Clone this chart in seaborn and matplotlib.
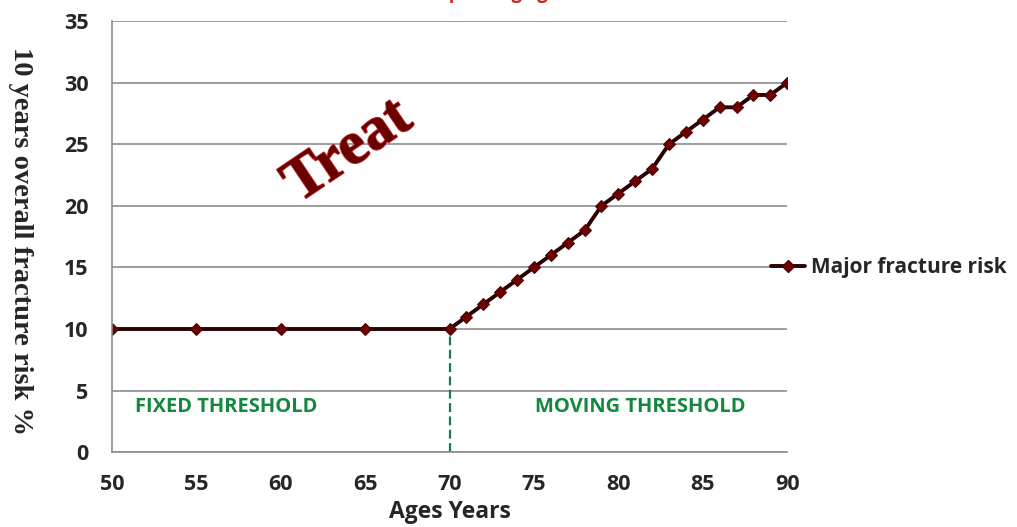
import matplotlib
matplotlib.use("Agg")
import matplotlib.pyplot as plt
import matplotlib.patheffects as pe
from matplotlib.lines import Line2D
import seaborn as sns
import pandas as pd

ages = [50, 55, 60, 65, 70, 71, 72, 73, 74, 75, 76, 77, 78, 79, 80,
        81, 82, 83, 84, 85, 86, 87, 88, 89, 90]
risk = [10, 10, 10, 10, 10, 11, 12, 13, 14, 15, 16, 17, 18, 20, 21,
        22, 23, 25, 26, 27, 28, 28, 29, 29, 30]
series_name = "Major fracture risk"
x_ticks = [50, 55, 60, 65, 70, 75, 80, 85, 90]
y_ticks = [0, 5, 10, 15, 20, 25, 30, 35]
threshold_age = 70
threshold_risk = 10

df = pd.DataFrame({"Age": ages, "Risk": risk, "Series": series_name})

sns.set_theme(style="white")
plt.rcParams['font.family'] = ['Open Sans', 'DejaVu Sans']

fig = plt.figure(figsize=(10.17, 5.27), dpi=100)
ax = fig.add_axes([0.110, 0.142, 0.664, 0.818])

sns.lineplot(data=df, x="Age", y="Risk", hue="Series", palette=["#2a0000"],
             marker="D", markersize=6, markerfacecolor="#6e0000",
             markeredgecolor="#4a0000", linewidth=2.8, ax=ax, legend=False)

ax.set_xlim(50, 90)
ax.set_ylim(0, 35)
ax.set_xticks(x_ticks)
ax.set_yticks(y_ticks)
ax.yaxis.grid(True, color="#8c8c8c", linewidth=1.2)
ax.xaxis.grid(False)
for s in ["top", "right"]:
    ax.spines[s].set_visible(False)
for s in ["left", "bottom"]:
    ax.spines[s].set_color("#8c8c8c")
    ax.spines[s].set_linewidth(1.2)
ax.tick_params(axis="both", direction="out", length=6, width=1.2,
               color="#8c8c8c", labelsize=15.5)
for lab in ax.get_xticklabels() + ax.get_yticklabels():
    lab.set_fontweight("bold")
ax.tick_params(axis="x", pad=10)
ax.tick_params(axis="y", pad=11)

# vertical dashed threshold line
ax.plot([threshold_age, threshold_age], [0, threshold_risk], color="#1b7a55",
        linestyle=(0, (4, 2)), linewidth=1.6, zorder=1)

ax.set_xlabel("Ages Years", fontsize=16.5, fontweight="bold", labelpad=3)
ax.set_ylabel("10 years overall fracture risk %", fontsize=20.5,
              fontweight="bold", family=["Liberation Serif"], rotation=-90,
              va="center", ha="center")
ax.yaxis.set_label_coords(-0.135, 0.49)

ax.text(64.0, 24.4, "Treat", family=["Liberation Serif"], fontsize=44,
        fontweight="bold", color="#6a0000", rotation=34, ha="center",
        va="center",
        path_effects=[pe.withStroke(linewidth=1.2, foreground="#c03030")])

ax.text(51.35, 3.7, "FIXED THRESHOLD", fontsize=14.5, fontweight="bold",
        color="#12893e", va="center", ha="left")
ax.text(75.05, 3.7, "MOVING THRESHOLD", fontsize=14.5, fontweight="bold",
        color="#12893e", va="center", ha="left")

# legend
h = Line2D([], [], color="#2a0000", linewidth=2.8, marker="D", markersize=6,
           markerfacecolor="#6e0000", markeredgecolor="#4a0000")
fig.legend([h], [series_name], loc="center left",
           bbox_to_anchor=(0.740, 1 - 268 / 527), frameon=False,
           prop={"weight": "bold", "size": 15}, handlelength=1.6,
           handletextpad=0.3)

# clipped title at top (only its lower edge is visible in the reference)
fig.text(0.27, 1 + 1 / 527, "Intervention threshold set at fracture risk of corresponding age",
         color="#d02020", fontsize=13, fontweight="bold", ha="center",
         va="baseline")

fig.savefig("out.png", dpi=100)
